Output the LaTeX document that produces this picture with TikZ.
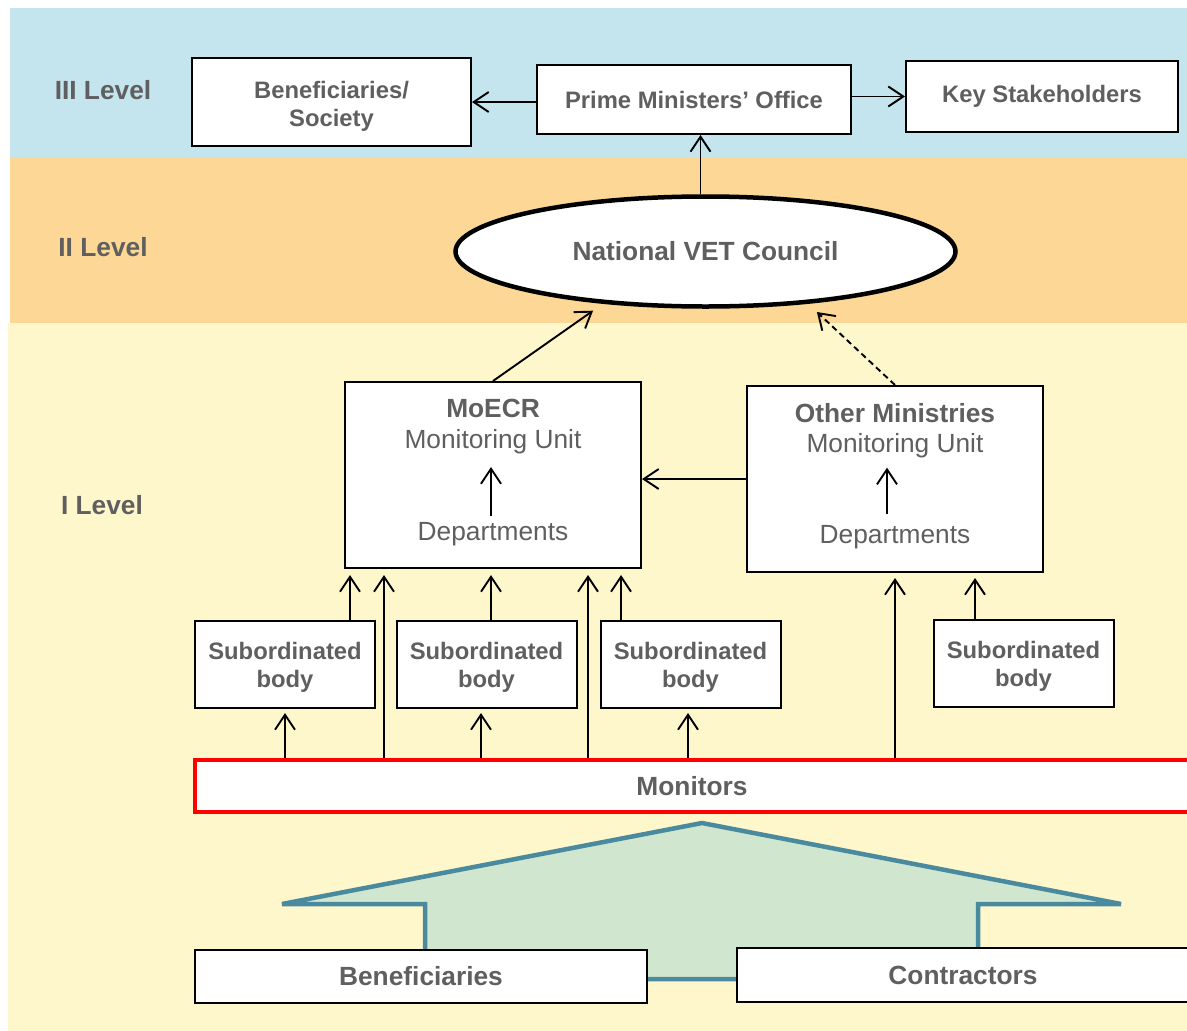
\documentclass[tikz,border=0pt]{standalone}
\usepackage{fontspec}
\setmainfont{Liberation Sans}
\usetikzlibrary{arrows.meta,shapes.geometric}

\definecolor{bandIII}{RGB}{196,228,238}
\definecolor{bandII}{RGB}{252,215,149}
\definecolor{bandI}{RGB}{255,247,204}
\definecolor{labelgray}{RGB}{95,95,95}
\definecolor{flowline}{RGB}{74,138,159}
\definecolor{flowfill}{RGB}{208,230,207}

\newcommand{\toppad}[1]{\rule{0pt}{#1}}

\begin{document}
\begin{tikzpicture}[
  x=1pt, y=-1pt,
  >={Straight Barb[length=15pt,width=20pt]},
  block/.style={rectangle, draw, line width=2pt, fill=white, inner sep=0pt, align=center,
    text=labelgray, font=\bfseries\fontsize{23.8}{28}\selectfont},
  bigblock/.style={block, font=\bfseries\fontsize{26.3}{31}\selectfont},
  levellabel/.style={text=labelgray, font=\bfseries\fontsize{26.3}{31}\selectfont},
  unittext/.style={inner sep=0pt, anchor=base, text=labelgray, font=\fontsize{26.3}{31}\selectfont},
  headtext/.style={unittext, font=\bfseries\fontsize{26.3}{31}\selectfont},
  link/.style={->, line width=1.9pt}
]
\useasboundingbox (0,0) rectangle (1187,1031);
\fill[bandIII] (10,8) rectangle (1187,157);
\fill[bandII] (10,157) rectangle (1187,323);
\fill[bandI] (8,323) rectangle (1187,1031);

\node[levellabel] (lvl3) at (103,90) {III Level};
\node[levellabel] (lvl2) at (103,247) {II Level};
\node[levellabel] (lvl1) at (102,505) {I Level};

\node[block, minimum width=279pt, minimum height=88pt] (society) at (331.5,102) {\toppad{26pt}Beneficiaries/\\Society};
\node[block, minimum width=314pt, minimum height=69pt] (pmo) at (694,99.5) {Prime Ministers’ Office};
\node[block, minimum width=272pt, minimum height=71pt] (keys) at (1042,96.5) {Key Stakeholders};

\node[ellipse, draw, line width=4.5pt, fill=white, minimum width=500pt, minimum height=110pt,
  inner sep=0pt, text=labelgray, font=\bfseries\fontsize{26.3}{31}\selectfont] (council) at (705.5,251.5) {National VET Council};

\node[block, minimum width=296pt, minimum height=186pt] (moecr) at (493,475) {};
\node[headtext] (moecr-name) at (493,417.4) {MoECR};
\node[unittext] (moecr-unit) at (493,448.4) {Monitoring Unit};
\node[unittext] (moecr-dept) at (493,540.4) {Departments};

\node[block, minimum width=296pt, minimum height=186pt] (other) at (895,479) {};
\node[headtext] (other-name) at (895,422) {Other Ministries};
\node[unittext] (other-unit) at (895,452) {Monitoring Unit};
\node[unittext] (other-dept) at (895,543.5) {Departments};

\node[block, minimum width=180pt, minimum height=87pt] (sub1) at (285,664.5) {\toppad{23pt}Subordinated\\body};
\node[block, minimum width=180pt, minimum height=87pt] (sub2) at (486.5,664.5) {\toppad{23pt}Subordinated\\body};
\node[block, minimum width=180pt, minimum height=87pt] (sub3) at (690.5,664.5) {\toppad{23pt}Subordinated\\body};
\node[block, minimum width=180pt, minimum height=87pt] (sub4) at (1023.5,663) {\toppad{23pt}Subordinated\\body};

\node[bigblock, draw=red, line width=4pt, minimum width=994pt, minimum height=52pt] (monitors) at (692,786) {Monitors};

\draw[flowline, fill=flowfill, line width=4.5pt] (282,904) -- (702,823) -- (1121,904) -- (978,904)
  -- (978,979) -- (425,979) -- (425,904) -- cycle;

\node[bigblock, minimum width=452pt, minimum height=53pt] (benef) at (421,976.5) {Beneficiaries};
\node[bigblock, minimum width=452pt, minimum height=54pt] (contr) at (963,975) {Contractors};

\draw[link] (pmo.west |- society.east) -- (society.east);
\draw[link] (pmo.east |- keys.west) -- (keys.west);
\draw[link] ([xshift=-5pt]council.north) -- ([xshift=-5pt]council.north |- pmo.south);
\draw[link, shorten >=12pt] (moecr.north) -- (council.207);
\draw[link, dashed, dash pattern=on 6pt off 4pt, shorten >=12pt] (other.north) -- (council.333);
\draw[link] (other.west) -- (other.west -| moecr.east);

\draw[link, shorten <=6pt, shorten >=13pt] ([xshift=-2pt]moecr-dept.north) -- ([xshift=-2pt]moecr-unit.south);
\draw[link, shorten <=11pt, shorten >=10pt] ([xshift=-8pt]other-dept.north) -- ([xshift=-8pt]other-unit.south);

\draw[link, shorten >=6pt] ([xshift=65pt]sub1.north) -- ([xshift=65pt]sub1.north |- moecr.south);
\draw[link, shorten >=6pt] ([xshift=4.5pt]sub2.north) -- ([xshift=4.5pt]sub2.north |- moecr.south);
\draw[link, shorten >=6pt] ([xshift=-69.5pt]sub3.north) -- ([xshift=-69.5pt]sub3.north |- moecr.south);
\draw[link, shorten >=5pt] ([xshift=-48.5pt]sub4.north) -- ([xshift=-48.5pt]sub4.north |- other.south);

\draw[link, shorten >=4pt] (sub1.south |- monitors.north) -- (sub1.south);
\draw[link, shorten >=4pt] ([xshift=-5.5pt]sub2.south |- monitors.north) -- ([xshift=-5.5pt]sub2.south);
\draw[link, shorten >=4pt] ([xshift=-2.5pt]sub3.south |- monitors.north) -- ([xshift=-2.5pt]sub3.south);
\draw[link, shorten >=6pt] ([xshift=-109pt]moecr.south |- monitors.north) -- ([xshift=-109pt]moecr.south);
\draw[link, shorten >=6pt] ([xshift=95pt]moecr.south |- monitors.north) -- ([xshift=95pt]moecr.south);
\draw[link, shorten >=5pt] (other.south |- monitors.north) -- (other.south);
\end{tikzpicture}
\end{document}
